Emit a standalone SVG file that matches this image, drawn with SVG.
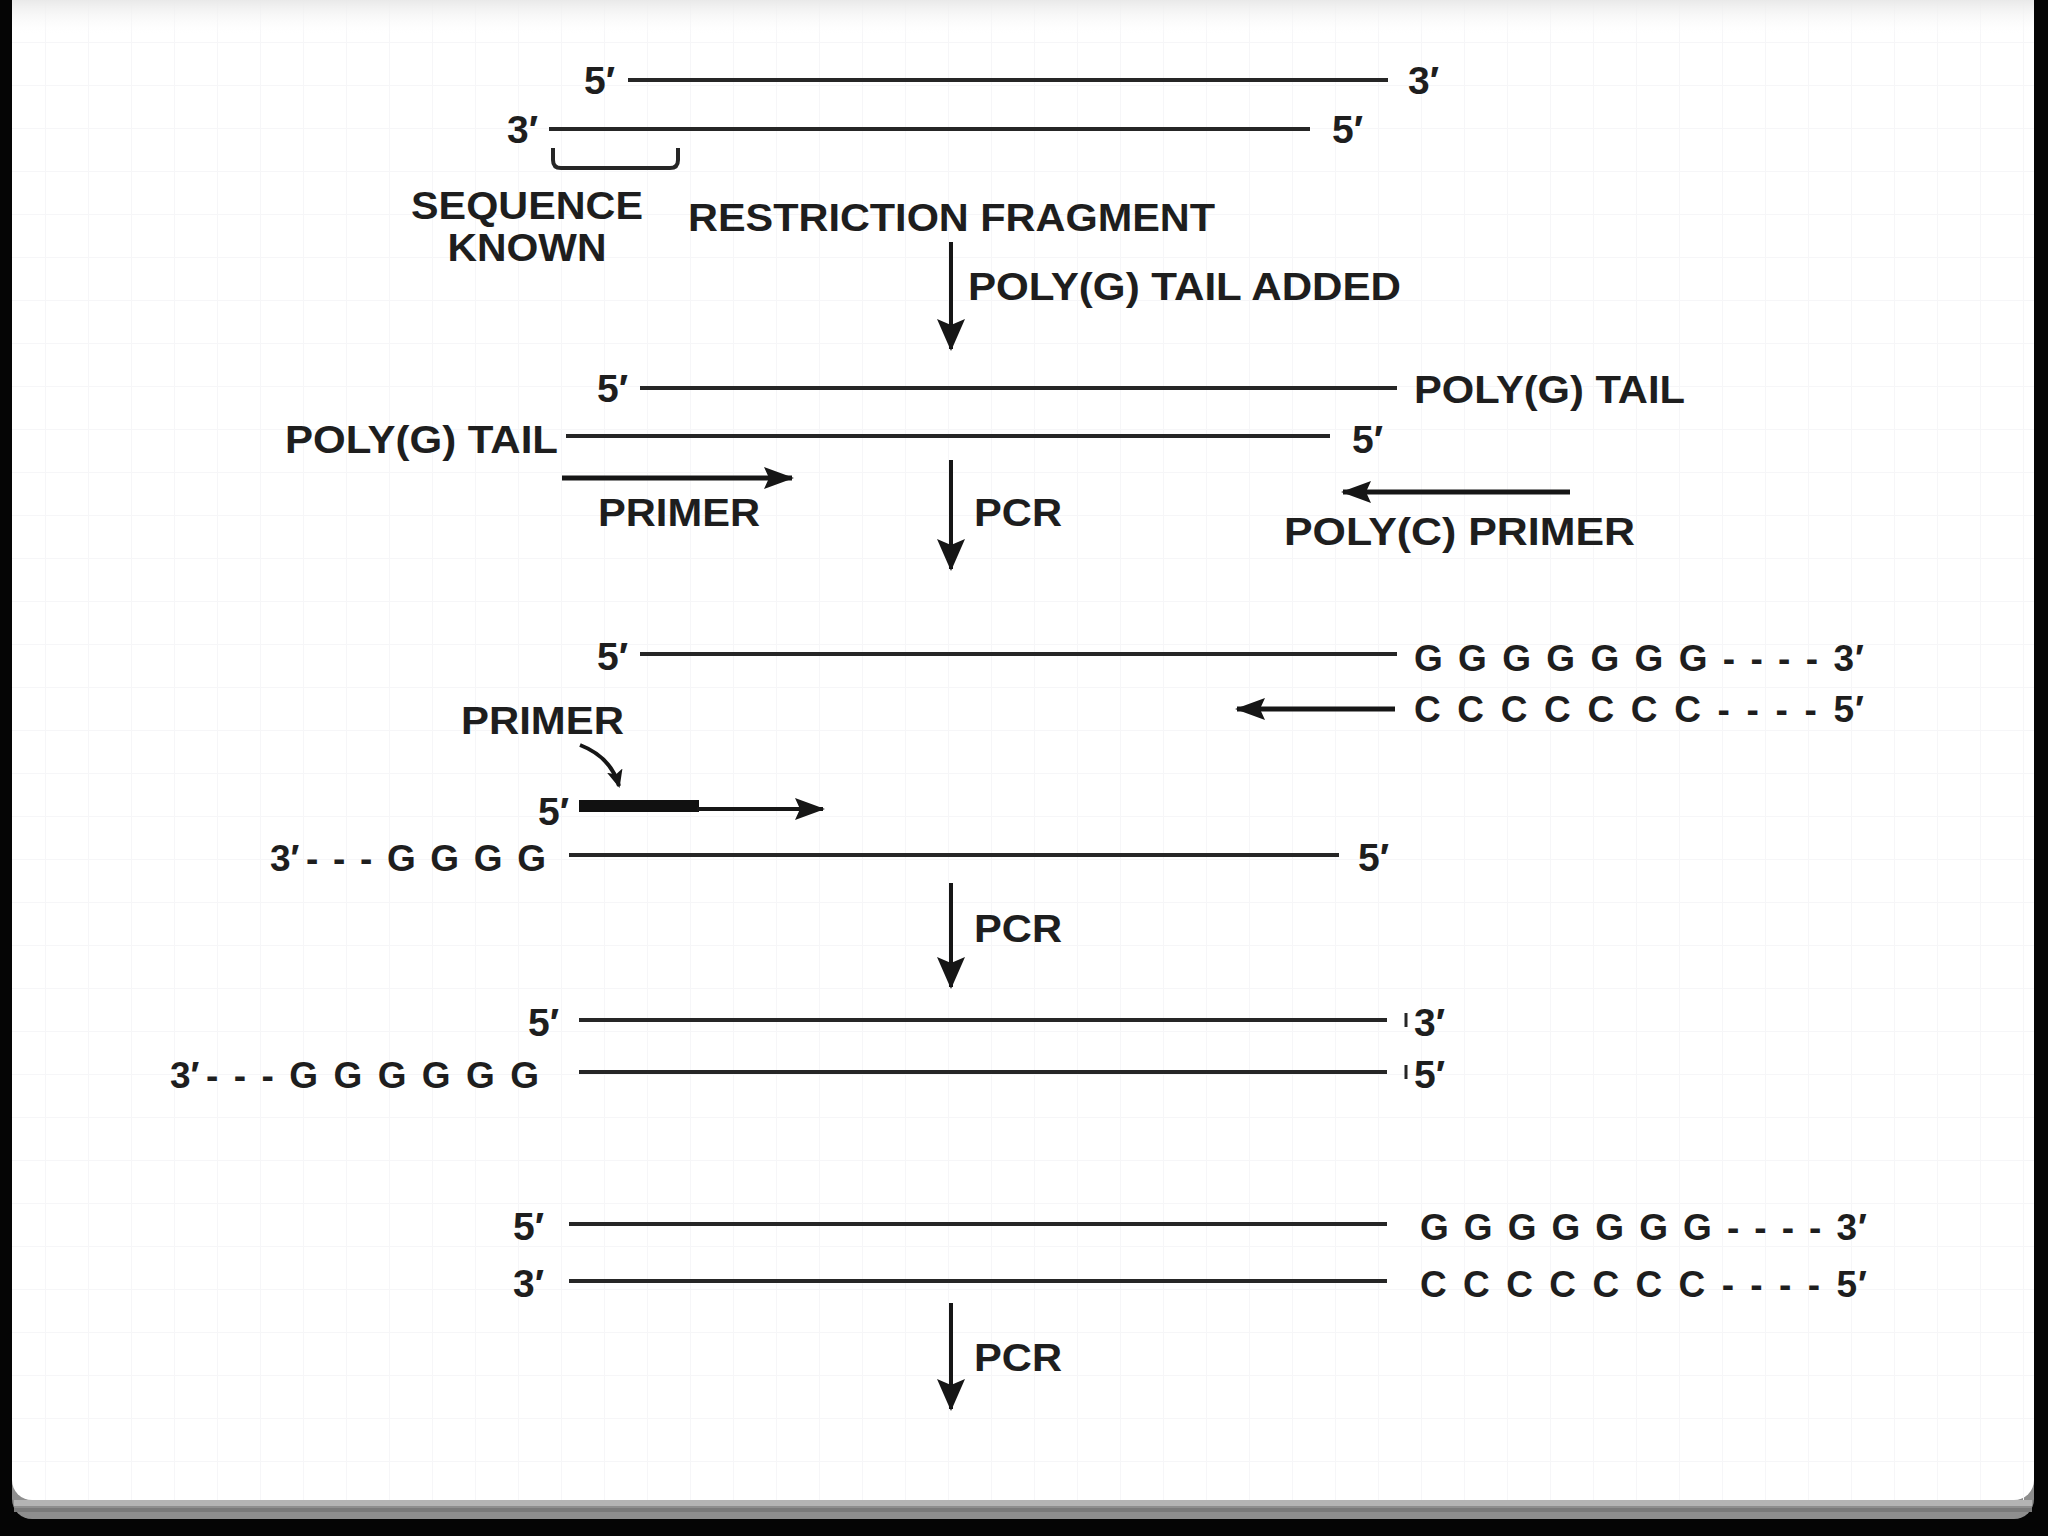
<svg xmlns="http://www.w3.org/2000/svg" width="2048" height="1536" viewBox="0 0 2048 1536">
  <style>
    .t { font-family: "Liberation Sans", Arial, sans-serif; font-size: 39px; font-weight: bold; fill: #1e1e1e; }
    .p { font-family: "Liberation Sans", Arial, sans-serif; font-size: 37px; font-weight: bold; fill: #1e1e1e; }
    .s { stroke: #262626; stroke-width: 4; fill: none; }
    .a { stroke: #161616; stroke-width: 4; fill: none; }
    .ah { stroke: #161616; stroke-width: 5; fill: none; }
    .tick { stroke: #262626; stroke-width: 3; }
  </style>
  <defs>
    <marker id="head" viewBox="0 0 32 28" refX="30" refY="14" markerWidth="32" markerHeight="28" markerUnits="userSpaceOnUse" orient="auto">
      <path d="M0,0 L32,14 L0,28 L6,14 Z" fill="#161616"/>
    </marker>
    <marker id="headH" viewBox="0 0 30 22" refX="28" refY="11" markerWidth="30" markerHeight="22" markerUnits="userSpaceOnUse" orient="auto">
      <path d="M0,0 L30,11 L0,22 L5,11 Z" fill="#161616"/>
    </marker>
    <marker id="headS" viewBox="0 0 18 16" refX="16" refY="8" markerWidth="18" markerHeight="16" markerUnits="userSpaceOnUse" orient="auto">
      <path d="M0,0 L18,8 L0,16 L4,8 Z" fill="#161616"/>
    </marker>
    <pattern id="grid" x="2" y="-1" width="43" height="43" patternUnits="userSpaceOnUse">
      <path d="M0,0 V43 M0,0 H43" stroke="#f6f6f8" stroke-width="2" fill="none"/>
    </pattern>
    <linearGradient id="topfade" x1="0" y1="0" x2="0" y2="1">
      <stop offset="0" stop-color="#e9e9e9"/>
      <stop offset="1" stop-color="#ffffff" stop-opacity="0"/>
    </linearGradient>
  </defs>

  <!-- page frame -->
  <g id="page">
    <rect x="0" y="0" width="2048" height="1536" fill="#050505"/>
    <rect x="12" y="-30" width="2022" height="1549" rx="20" fill="#8e8e8e"/>
    <rect x="14" y="1500" width="2018" height="6" fill="#b4b4b4"/>
    <rect x="14" y="1508" width="2018" height="4" fill="#7a7a7a"/>
    <rect x="12" y="-30" width="2022" height="1530" rx="20" fill="#ffffff"/>
    <rect x="12" y="0" width="2022" height="1500" fill="url(#grid)"/>
    <rect x="12" y="0" width="2022" height="36" fill="url(#topfade)"/>
  </g>

  <!-- step 1: restriction fragment -->
  <g id="fragment-top">
    <text class="t" x="584" y="94">5′</text>
    <line class="s" x1="628" y1="80" x2="1388" y2="80"/>
    <text class="t" x="1408" y="94">3′</text>
  </g>
  <g id="fragment-bottom">
    <text class="t" x="507" y="143">3′</text>
    <line class="s" x1="549" y1="129" x2="1310" y2="129"/>
    <text class="t" x="1332" y="143">5′</text>
  </g>
  <g id="sequence-known">
    <path class="s" d="M553,148 V160 Q553,168 561,168 H670 Q678,168 678,160 V148" stroke-width="3.5"/>
    <text class="t" x="527" y="219" text-anchor="middle" textLength="232" lengthAdjust="spacingAndGlyphs">SEQUENCE</text>
    <text class="t" x="527" y="261" text-anchor="middle" textLength="159" lengthAdjust="spacingAndGlyphs">KNOWN</text>
  </g>
  <g id="restriction-fragment-label">
    <text class="t" x="688" y="231" textLength="527" lengthAdjust="spacingAndGlyphs">RESTRICTION FRAGMENT</text>
  </g>

  <!-- step 2: poly(G) tails -->
  <g id="tailed-top">
    <text class="t" x="597" y="402">5′</text>
    <line class="s" x1="640" y1="388" x2="1397" y2="388"/>
    <text class="t" x="1414" y="403" textLength="271" lengthAdjust="spacingAndGlyphs">POLY(G) TAIL</text>
  </g>
  <g id="tailed-bottom">
    <text class="t" x="285" y="453" textLength="273" lengthAdjust="spacingAndGlyphs">POLY(G) TAIL</text>
    <line class="s" x1="566" y1="436" x2="1330" y2="436"/>
    <text class="t" x="1352" y="453">5′</text>
  </g>
  <g id="primer-label">
    <text class="t" x="598" y="526" textLength="162" lengthAdjust="spacingAndGlyphs">PRIMER</text>
  </g>
  <g id="polyc-primer-label">
    <text class="t" x="1284" y="545" textLength="351" lengthAdjust="spacingAndGlyphs">POLY(C) PRIMER</text>
  </g>

  <!-- step 3 -->
  <g id="pcr-top">
    <text class="t" x="597" y="670">5′</text>
    <line class="s" x1="640" y1="654" x2="1397" y2="654"/>
    <text class="p" x="1414" y="671" textLength="440" lengthAdjust="spacing">GGGGGGG----3</text>
    <text class="p" x="1855" y="671">′</text>
  </g>
  <g id="pcr-c-strand">
    <text class="p" x="1414" y="722" textLength="440" lengthAdjust="spacing">CCCCCCC----5</text>
    <text class="p" x="1855" y="722">′</text>
  </g>
  <g id="primer-callout">
    <text class="t" x="461" y="734" textLength="163" lengthAdjust="spacingAndGlyphs">PRIMER</text>
  </g>
  <g id="primer-strand">
    <text class="t" x="538" y="825">5′</text>
    <rect x="579" y="800" width="120" height="12" fill="#111111"/>
  </g>
  <g id="pcr-bottom">
    <text class="p" x="270" y="871">3′</text>
    <text class="p" x="306" y="871" textLength="240" lengthAdjust="spacing">---GGGG</text>
    <line class="s" x1="569" y1="855" x2="1339" y2="855"/>
    <text class="t" x="1358" y="871">5′</text>
  </g>

  <!-- step 4 -->
  <g id="product-top">
    <text class="t" x="528" y="1036">5′</text>
    <line class="s" x1="579" y1="1020" x2="1387" y2="1020"/>
    <line class="tick" x1="1406" y1="1013" x2="1406" y2="1027"/>
    <text class="t" x="1414" y="1036">3′</text>
  </g>
  <g id="product-bottom">
    <text class="p" x="170" y="1088">3′</text>
    <text class="p" x="206" y="1088" textLength="333" lengthAdjust="spacing">---GGGGGG</text>
    <line class="s" x1="579" y1="1072" x2="1387" y2="1072"/>
    <line class="tick" x1="1406" y1="1065" x2="1406" y2="1079"/>
    <text class="t" x="1414" y="1088">5′</text>
  </g>

  <!-- step 5 -->
  <g id="final-top">
    <text class="t" x="513" y="1240">5′</text>
    <line class="s" x1="569" y1="1224" x2="1387" y2="1224"/>
    <text class="p" x="1420" y="1240" textLength="437" lengthAdjust="spacing">GGGGGGG----3</text>
    <text class="p" x="1858" y="1240">′</text>
  </g>
  <g id="final-bottom">
    <text class="t" x="513" y="1297">3′</text>
    <line class="s" x1="569" y1="1281" x2="1387" y2="1281"/>
    <text class="p" x="1420" y="1297" textLength="437" lengthAdjust="spacing">CCCCCCC----5</text>
    <text class="p" x="1858" y="1297">′</text>
  </g>

  <!-- step labels -->
  <g id="step-labels">
    <text class="t" x="968" y="300" textLength="433" lengthAdjust="spacingAndGlyphs">POLY(G) TAIL ADDED</text>
    <text class="t" x="974" y="526" textLength="88" lengthAdjust="spacingAndGlyphs">PCR</text>
    <text class="t" x="974" y="942" textLength="88" lengthAdjust="spacingAndGlyphs">PCR</text>
    <text class="t" x="974" y="1371" textLength="88" lengthAdjust="spacingAndGlyphs">PCR</text>
  </g>

  <!-- connectors -->
  <g id="connectors">
    <line class="a" x1="951" y1="242" x2="951" y2="349" marker-end="url(#head)"/>
    <line class="a" x1="951" y1="460" x2="951" y2="569" marker-end="url(#head)"/>
    <line class="a" x1="951" y1="883" x2="951" y2="987" marker-end="url(#head)"/>
    <line class="a" x1="951" y1="1303" x2="951" y2="1409" marker-end="url(#head)"/>
    <line class="ah" x1="562" y1="478" x2="792" y2="478" marker-end="url(#headH)"/>
    <line class="ah" x1="1570" y1="492" x2="1343" y2="492" marker-end="url(#headH)"/>
    <line class="ah" x1="1395" y1="709" x2="1237" y2="709" marker-end="url(#headH)"/>
    <line class="a" x1="697" y1="809" x2="823" y2="809" marker-end="url(#headH)"/>
    <path class="a" stroke-width="3" d="M580,745 Q611,757 619,786" marker-end="url(#headS)"/>
  </g>
</svg>
